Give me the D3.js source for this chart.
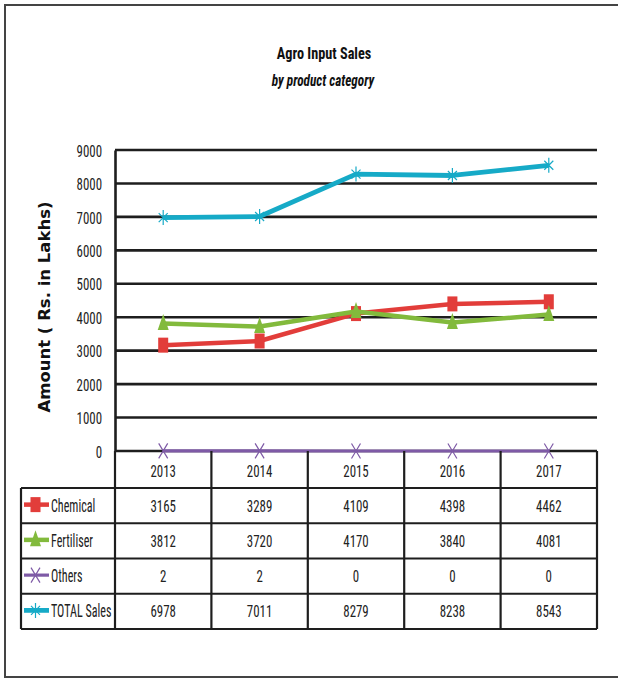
<!DOCTYPE html>
<html>
<head>
<meta charset="utf-8">
<script src="https://cdn.jsdelivr.net/npm/d3@7"></script>
<style>
  html, body { margin: 0; padding: 0; background: #fff; }
  svg { display: block; }
</style>
</head>
<body>
<svg id="chart" width="618" height="678"></svg>
<script>
// Sales figures (Rs. in Lakhs) per year and product category
const years = ["2013", "2014", "2015", "2016", "2017"];
const chemical = [3165, 3289, 4109, 4398, 4462];
const fertiliser = [3812, 3720, 4170, 3840, 4081];
const others = [2, 2, 0, 0, 0];
const totalSales = [6978, 7011, 8279, 8238, 8543];
const seriesNames = ["Chemical", "Fertiliser", "Others", "TOTAL Sales"];
const seriesColors = ["#e23d3a", "#82ba3c", "#7e5aa6", "#16aac7"];
const seriesMarkers = ["square", "triangle", "cross", "star"];
const yTicks = [0, 1000, 2000, 3000, 4000, 5000, 6000, 7000, 8000, 9000];

(function () {
const series = seriesNames.map((name, i) => ({
  name,
  values: [chemical, fertiliser, others, totalSales][i],
  color: seriesColors[i],
  marker: seriesMarkers[i]
}));

const svg = d3.select("#chart");
const narrow = "'Liberation Sans Narrow', 'Arial Narrow', 'Roboto Condensed', sans-serif";
const ink = "#222";

// condensed text helper: tall glyphs squeezed horizontally
function label(g, x, y, str, o = {}) {
  return g.append("text")
    .attr("transform", `translate(${x},${y}) scale(${o.sx || 0.76},1)`)
    .attr("text-anchor", o.anchor || "middle")
    .attr("font-family", o.family || narrow)
    .attr("font-size", o.size || 17)
    .attr("font-weight", o.weight || "normal")
    .attr("font-style", o.style || "normal")
    .attr("fill", o.fill || ink)
    .text(str);
}

// outer frame (left, top, bottom edges)
svg.append("path")
  .attr("d", "M5,678 L5,5 L618,5 M5,677 L618,677")
  .attr("fill", "none").attr("stroke", "#444").attr("stroke-width", 2);

// titles
label(svg, 324, 59, "Agro Input Sales", { size: 17, weight: "bold", sx: 0.84, fill: "#111" });
label(svg, 323, 86, "by product category", { size: 16, weight: "bold", style: "italic", sx: 0.83, fill: "#111" });

const plotLeft = 115, plotRight = 597, plotTop = 150, plotBottom = 451;
const x = d3.scaleBand().domain(years).range([plotLeft, plotRight]);
const y = d3.scaleLinear().domain([0, 9000]).range([plotBottom, plotTop]);
const cx = d => x(d) + x.bandwidth() / 2;

// horizontal gridlines
svg.append("g").selectAll("line").data(yTicks).join("line")
  .attr("x1", plotLeft).attr("x2", plotRight)
  .attr("y1", d => y(d)).attr("y2", d => y(d))
  .attr("stroke", "#1e1e1e").attr("stroke-width", 2.6);

// value axis
const yAxis = svg.append("g").attr("transform", `translate(${plotLeft},0)`)
  .call(d3.axisLeft(y).tickValues(yTicks).tickSize(0).tickPadding(0).tickFormat(d3.format("d")));
yAxis.select(".domain").attr("stroke", "#1e1e1e").attr("stroke-width", 2.6);
yAxis.selectAll("text")
  .attr("font-family", narrow).attr("font-size", 17).attr("fill", ink)
  .attr("x", -13 / 0.76).attr("dy", "0.36em")
  .attr("transform", "scale(0.76,1)");

svg.append("text")
  .attr("transform", "translate(50,307) rotate(-90)")
  .attr("text-anchor", "middle")
  .attr("font-family", "'DejaVu Sans', Verdana, sans-serif").attr("font-weight", "bold")
  .attr("font-size", 16.5).attr("fill", "#111")
  .text("Amount ( Rs. in Lakhs)");

// marker shapes (w = width, h = height)
function drawMarker(g, type, color, px, py, w, h) {
  if (type === "square") {
    g.append("rect").attr("x", px - w / 2).attr("y", py - h / 2)
      .attr("width", w).attr("height", h).attr("fill", color);
  } else if (type === "triangle") {
    g.append("path")
      .attr("d", `M${px},${py - h * 0.6} L${px + w / 2},${py + h * 0.4} L${px - w / 2},${py + h * 0.4} Z`)
      .attr("fill", color);
  } else if (type === "cross") {
    const a = w / 2, b = h / 2;
    g.append("path")
      .attr("d", `M${px - a},${py - b} L${px + a},${py + b} M${px + a},${py - b} L${px - a},${py + b}`)
      .attr("stroke", color).attr("stroke-width", 1.2).attr("fill", "none");
  } else if (type === "star") {
    const a = w / 2, b = h / 2;
    g.append("path")
      .attr("d", `M${px - a},${py - b * 0.6} L${px + a},${py + b * 0.6} M${px + a},${py - b * 0.6} L${px - a},${py + b * 0.6} M${px},${py - b} L${px},${py + b}`)
      .attr("stroke", color).attr("stroke-width", 1.2).attr("fill", "none");
  }
}

const markerDims = { square: [10, 15], triangle: [11, 16], cross: [9, 15], star: [9, 15] };
const lineWidth = { square: 4.5, triangle: 4.5, cross: 3.2, star: 4.8 };

const line = d3.line().x((d, i) => cx(years[i])).y(d => y(d));
// purple first, then red, green and cyan on top
[series[2], series[0], series[1], series[3]].forEach(s => {
  const g = svg.append("g");
  g.append("path").datum(s.values).attr("d", line)
    .attr("fill", "none").attr("stroke", s.color)
    .attr("stroke-width", lineWidth[s.marker]).attr("stroke-linejoin", "round");
  const [w, h] = markerDims[s.marker];
  s.values.forEach((v, i) => drawMarker(g, s.marker, s.color, cx(years[i]), y(v), w, h));
});

// data table below the plot
const rowTop = 488, rowH = 35.25, tableLeft = 21;
const tbl = svg.append("g");
function seg(x1, y1, x2, y2) {
  tbl.append("line").attr("x1", x1).attr("y1", y1).attr("x2", x2).attr("y2", y2)
    .attr("stroke", "#1e1e1e").attr("stroke-width", 2.2);
}
const tableBottom = rowTop + rowH * series.length;
// header row with years
years.forEach((yr) => {
  seg(x(yr) + x.bandwidth(), plotBottom, x(yr) + x.bandwidth(), tableBottom);
  label(tbl, cx(yr), (plotBottom + rowTop) / 2 + 7, yr);
});
seg(plotLeft, plotBottom, plotLeft, tableBottom);
seg(tableLeft, rowTop, tableLeft, tableBottom);
for (let r = 0; r <= series.length; r++) {
  seg(tableLeft, rowTop + r * rowH, plotRight, rowTop + r * rowH);
}
series.forEach((s, r) => {
  const ym = rowTop + r * rowH + rowH / 2;
  // legend key
  tbl.append("line").attr("x1", 24).attr("x2", 49).attr("y1", ym - 1).attr("y2", ym - 1)
    .attr("stroke", s.color).attr("stroke-width", lineWidth[s.marker]);
  const [w, h] = markerDims[s.marker];
  drawMarker(tbl, s.marker, s.color, 35.5, ym - 1, w, h);
  label(tbl, 51, ym + 6, s.name, { anchor: "start", size: 18, sx: 0.67 });
  s.values.forEach((v, i) => label(tbl, cx(years[i]), ym + 6, v));
});
})();
</script>
</body>
</html>
